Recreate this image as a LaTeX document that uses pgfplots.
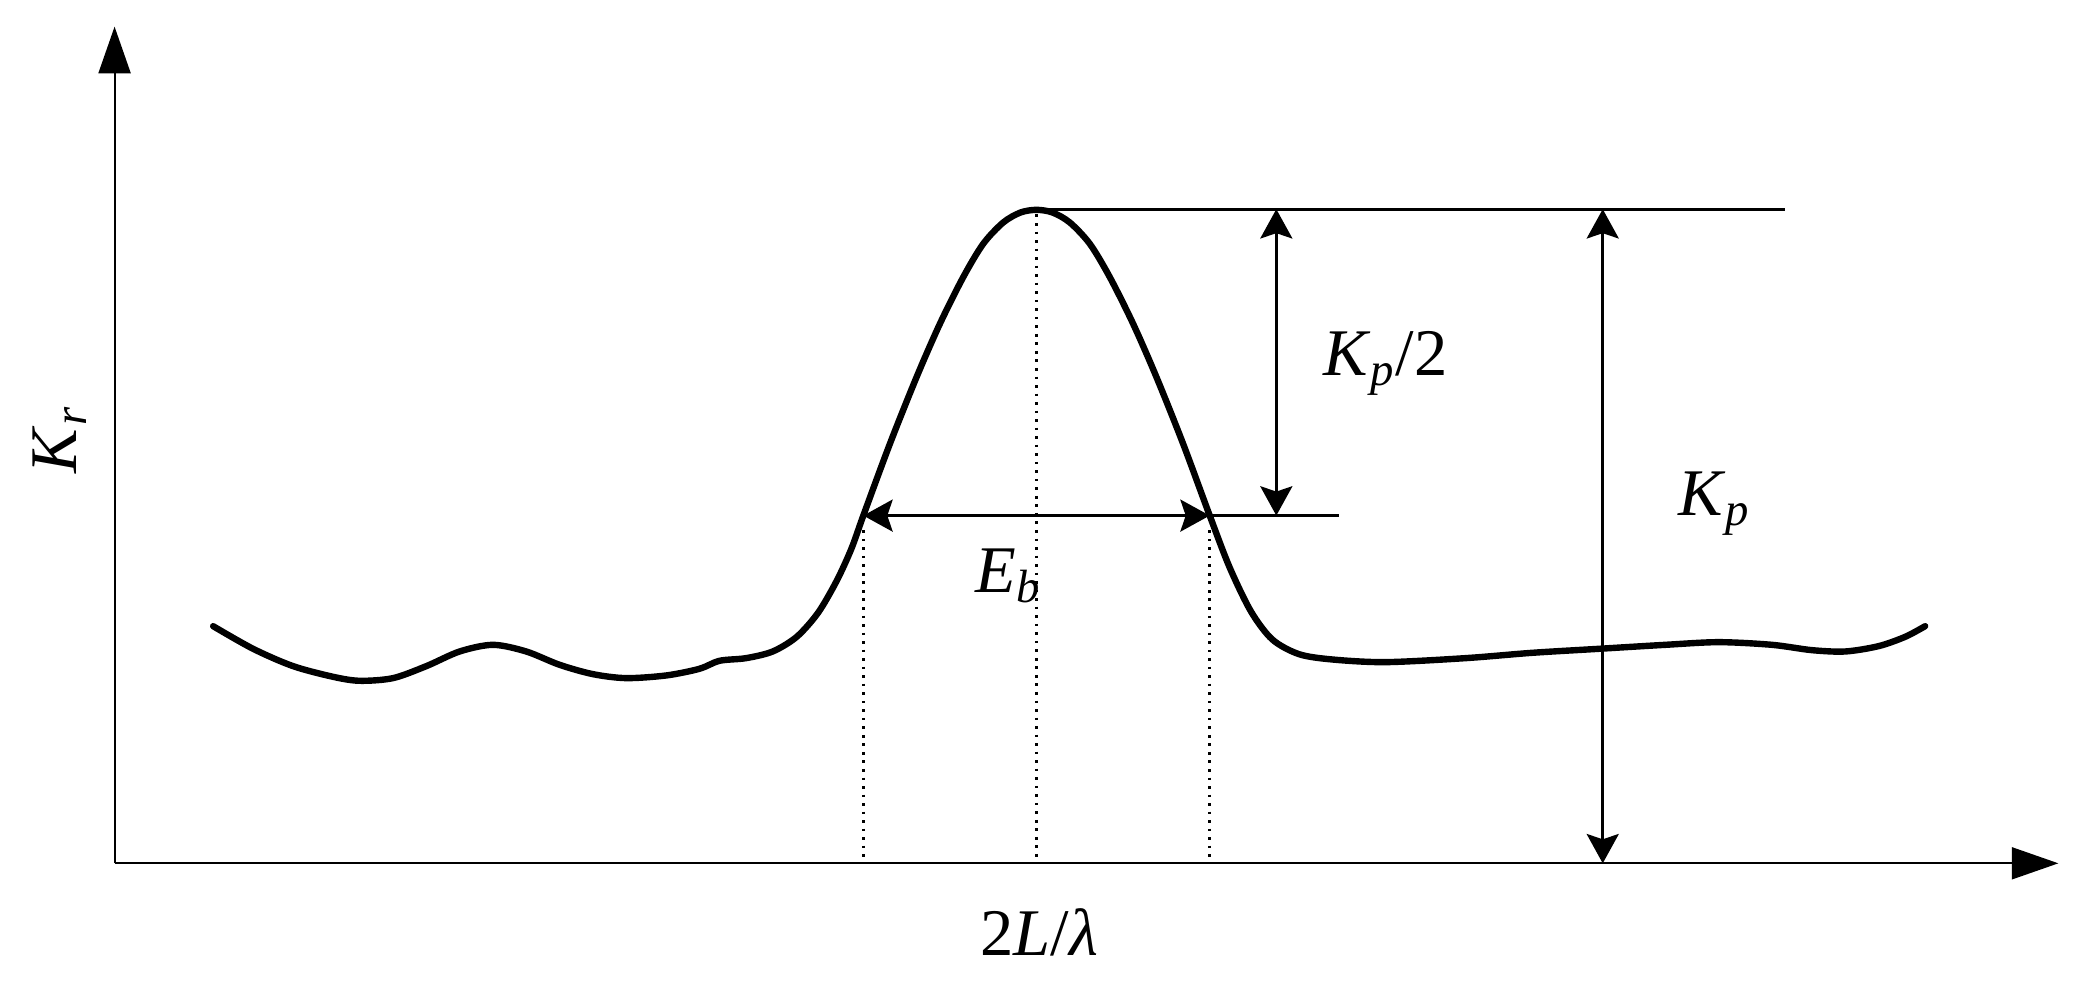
\documentclass[border=0pt]{standalone}
\usepackage{fontspec}
\setmainfont{Liberation Serif}
\usepackage{pgfplots}
\pgfplotsset{compat=1.18}
\usetikzlibrary{arrows.meta}

% curve (x, height above the axis)
\pgfplotstableread{
x y
160 178
190 161
220 148
250 140
270 137
295 139
320 148
345 159
370 164
395 159
420 149
445 142
470 139
500 141
525 146
540 152
560 154
580 159
598 170
614 188
628 212
639 236
648 261
668 315
688 365
705.5 405
723 440
738 465
753 481
766 488.5
778 490.5
790 488.5
803 481
818 465
833 440
850.5 405
868 365
888 315
908 261
923 222
939 189
955 168
975 157
1000 153
1040 151
1100 154
1150 158
1200 161
1250 164
1290 166
1330 164
1360 160
1385 159
1410 163
1430 170
1445 178
}\curve

\newcommand{\lab}{\fontsize{25}{30}\selectfont}

\begin{document}
\begin{tikzpicture}
\begin{axis}[
  x=0.5pt, y=0.5pt,
  xmin=86, xmax=1545, ymin=0, ymax=628,
  axis x line=bottom, axis y line=left,
  axis line style={line width=0.8pt, -{Triangle[length=17.5pt,width=12pt]}},
  xtick=\empty, ytick=\empty,
  clip=false,
]
  \path (axis cs:0,-97) rectangle (axis cs:1568,648);
  \addplot[line width=2.4pt, smooth, tension=0.5, line cap=round] table {\curve};

  \tikzset{dim/.style={line width=1.2pt, {Stealth[length=11pt,width=12pt,inset=2pt]}-{Stealth[length=11pt,width=12pt,inset=2pt]}}}
  % guide lines
  \draw[line width=1.2pt] (axis cs:778,491) -- (axis cs:1340,491);
  \draw[line width=1.2pt] (axis cs:908,261) -- (axis cs:1005,261);
  \draw[dim] (axis cs:648,261) -- (axis cs:908,261);
  \draw[dim] (axis cs:958,491) -- (axis cs:958,261);
  \draw[dim] (axis cs:1203,491) -- (axis cs:1203,0);
  \tikzset{dots/.style={line width=1pt, dash pattern=on 1pt off 2.2pt}}
  \draw[dots] (axis cs:648,250) -- (axis cs:648,0);
  \draw[dots] (axis cs:778,487) -- (axis cs:778,0);
  \draw[dots] (axis cs:908,250) -- (axis cs:908,0);

  \node[font=\lab] at (axis cs:1040,375) {\textit{K}\textsubscript{\textit{p}}/2};
  \node[font=\lab] at (axis cs:1287,270) {\textit{K}\textsubscript{\textit{p}}};
  \node[font=\lab] at (axis cs:757,216) {\textit{E}\textsubscript{\textit{b}}};
  \node[font=\lab, rotate=90] at (axis cs:45,318) {\textit{K}\textsubscript{\textit{r}}};
  \node[font=\lab] at (axis cs:780,-52) {2\textit{L}/\textit{λ}};
\end{axis}
\end{tikzpicture}
\end{document}
